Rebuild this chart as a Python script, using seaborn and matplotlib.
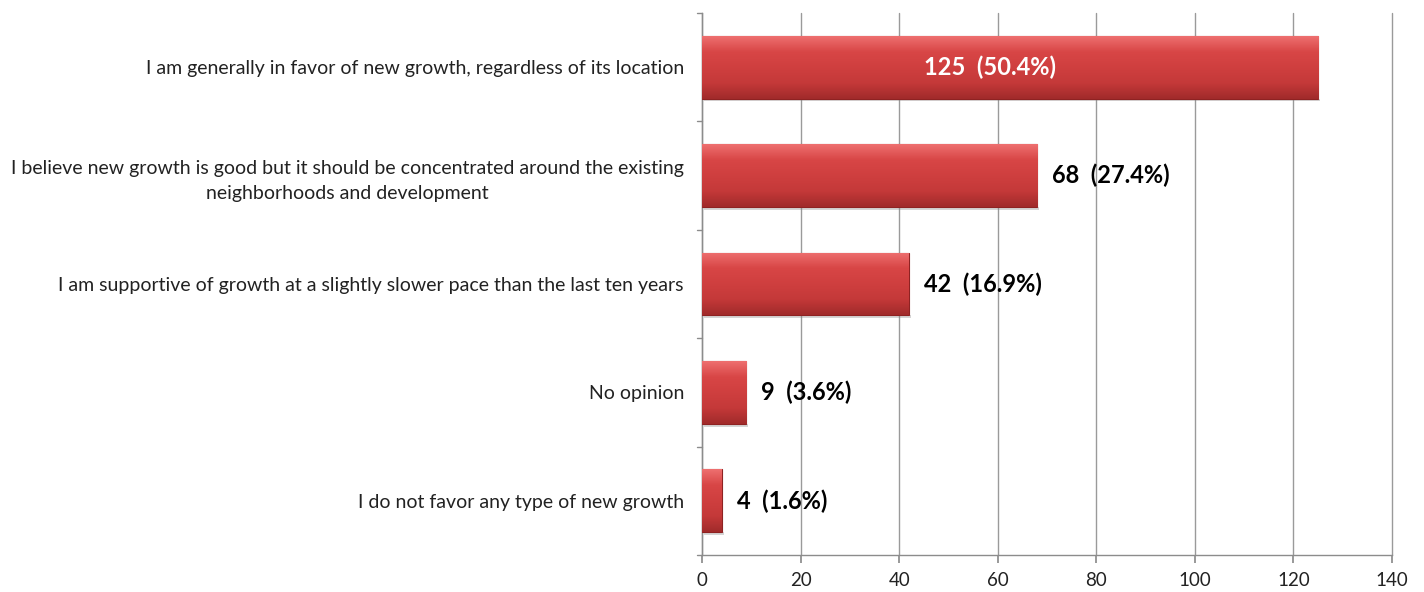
import numpy as np
import pandas as pd
import matplotlib
matplotlib.use("Agg")
import matplotlib.pyplot as plt
import seaborn as sns
from matplotlib.colors import LinearSegmentedColormap

categories = [
    "I am generally in favor of new growth, regardless of its location",
    "I believe new growth is good but it should be concentrated around the existing\nneighborhoods and development",
    "I am supportive of growth at a slightly slower pace than the last ten years",
    "No opinion",
    "I do not favor any type of new growth",
]
counts = [125, 68, 42, 9, 4]
percents = [50.4, 27.4, 16.9, 3.6, 1.6]
x_ticks = [0, 20, 40, 60, 80, 100, 120, 140]

df = pd.DataFrame({"category": categories, "count": counts})

sns.set_theme(style="white")
plt.rcParams["font.family"] = ["Lato", "DejaVu Sans"]

fig = plt.figure(figsize=(14.24, 5.92), dpi=100)
ax = fig.add_axes([0.493, 0.0625, 0.4845, 0.9155])

sns.barplot(data=df, y="category", x="count", orient="h", ax=ax,
            color="#C93A3A", width=0.58, edgecolor="#8E2222", linewidth=0.8,
            saturation=1, zorder=3)

# vertical shading on each bar: lighter top edge, darker bottom edge
shade = LinearSegmentedColormap.from_list(
    "bar_shade", ["#EE7070", "#D84646", "#CF3F3F", "#C43939", "#A02A2A"])
grad = np.linspace(0, 1, 256).reshape(-1, 1)
for patch in ax.patches:
    x0, y0 = patch.get_x(), patch.get_y()
    w, h = patch.get_width(), patch.get_height()
    im = ax.imshow(grad, cmap=shade, aspect="auto",
                   extent=[x0, x0 + w, y0 + h, y0], zorder=3.5,
                   interpolation="bicubic")
    im.set_clip_path(patch)
    # soft drop shadow below the bar
    ax.add_patch(plt.Rectangle((x0 + 0.4, y0 + h), w, 0.025,
                               color="#888888", alpha=0.35, lw=0, zorder=2.9))

ax.set_xlim(0, 140)
ax.set_ylim(4.5, -0.5)
ax.set_xticks(x_ticks)
ax.set_xticklabels([str(t) for t in x_ticks], fontsize=13.5, color="#222222")
ax.set_xlabel("")
ax.set_ylabel("")
ax.tick_params(axis="y", labelsize=14, colors="#222222", length=0, pad=13)
for lbl in ax.get_yticklabels():
    lbl.set_horizontalalignment("right")
    lbl.set_multialignment("center")
    lbl.set_linespacing(1.55)

ax.grid(axis="x", color="#9A9A9A", linewidth=1, zorder=0)
ax.set_axisbelow(True)
for gl in ax.get_xgridlines():
    gl.set_clip_on(False)
for side in ["top", "right"]:
    ax.spines[side].set_visible(False)
for side in ["left", "bottom"]:
    ax.spines[side].set_color("#8C8C8C")
    ax.spines[side].set_linewidth(1)

ax.tick_params(axis="x", length=6, color="#8C8C8C", direction="out", pad=6,
               bottom=True)

# category boundary ticks on the y axis
for b in np.arange(-0.5, 5, 1.0):
    ax.plot([-1.0, 0], [b, b], color="#8C8C8C", lw=1, clip_on=False, zorder=4)

# value labels
for i, (c, p) in enumerate(zip(counts, percents)):
    text = f"{c}  ({p}%)"
    if i == 0:
        ax.text(c / 2 - 4, i, text, ha="center", va="center", color="white",
                fontsize=17, fontweight="bold", zorder=5)
    else:
        ax.text(c + 3, i, text, ha="left", va="center", color="black",
                fontsize=17, fontweight="bold", zorder=5)

fig.savefig("out.png", dpi=100, facecolor="white")
